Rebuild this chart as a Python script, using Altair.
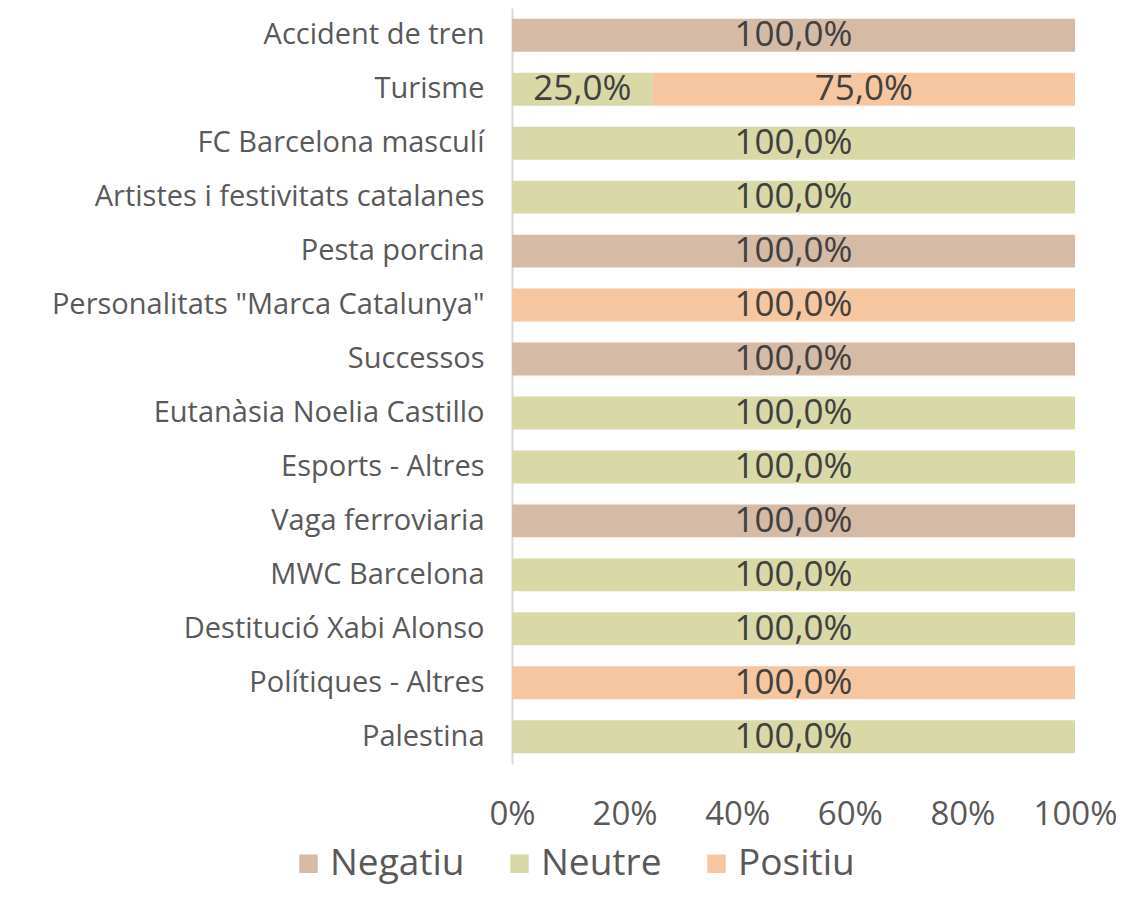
import altair as alt
import pandas as pd

categories = [
    "Accident de tren", "Turisme", "FC Barcelona masculí",
    "Artistes i festivitats catalanes", "Pesta porcina",
    "Personalitats \"Marca Catalunya\"", "Successos",
    "Eutanàsia Noelia Castillo", "Esports - Altres", "Vaga ferroviaria",
    "MWC Barcelona", "Destitució Xabi Alonso", "Polítiques - Altres", "Palestina",
]
negatiu = [100, 0, 0, 0, 100, 0, 100, 0, 0, 100, 0, 0, 0, 0]
neutre = [0, 25, 100, 100, 0, 0, 0, 100, 100, 0, 100, 100, 0, 100]
positiu = [0, 75, 0, 0, 0, 100, 0, 0, 0, 0, 0, 0, 100, 0]
series = ["Negatiu", "Neutre", "Positiu"]
colors = ["#D5BAA6", "#D9D9A8", "#F5C69F"]

rows = []
for i, c in enumerate(categories):
    for j, (s, vals) in enumerate(zip(series, [negatiu, neutre, positiu])):
        v = vals[i]
        if v > 0:
            rows.append({"cat": c, "serie": s, "ord": j, "v": v / 100.0,
                         "lab": f"{v:.1f}%".replace(".", ",")})
df = pd.DataFrame(rows)

FONT = "Open Sans"
base = alt.Chart(df).transform_stack(
    stack="v", groupby=["cat"], as_=["x0", "x1"],
    sort=[alt.SortField("ord", order="ascending")]
).transform_calculate(mid="(datum.x0 + datum.x1) / 2")

y_enc = alt.Y("cat:N", sort=categories, title=None,
              scale=alt.Scale(paddingInner=0.39, paddingOuter=0.2),
              axis=alt.Axis(labelFontSize=29, labelColor="#595959", labelFont=FONT,
                            labelPadding=28, ticks=False, domainColor="#D9D9D9",
                            domainWidth=2, labelLimit=600))

bars = base.mark_bar().encode(
    y=y_enc,
    x=alt.X("x0:Q", title=None, scale=alt.Scale(domain=[0, 1], nice=False),
            axis=alt.Axis(format="%", values=[0, 0.2, 0.4, 0.6, 0.8, 1.0], grid=False,
                          domain=False, ticks=False, labelFontSize=33, labelColor="#595959",
                          labelFont=FONT, labelPadding=34, labelFlush=False)),
    x2="x1:Q",
    color=alt.Color("serie:N", scale=alt.Scale(domain=series, range=colors),
                    legend=alt.Legend(title=None, orient="none", direction="horizontal",
                                      legendX=-222, legendY=837, symbolType="square",
                                      symbolSize=340, symbolStrokeWidth=0,
                                      labelFontSize=37, labelColor="#595959", labelFont=FONT,
                                      columnPadding=36, symbolOffset=0, labelOffset=3,
                                      padding=0)),
)

texts = base.mark_text(fontSize=35, color="#404040", font=FONT, baseline="middle").encode(
    y=alt.Y("cat:N", sort=categories),
    x=alt.X("mid:Q"),
    text="lab:N",
)

chart = (bars + texts).properties(
    width=563, height=756,
    autosize=alt.AutoSizeParams(type="none"),
    padding={"left": 504, "top": 0, "right": 41, "bottom": 125},
).configure_view(stroke=None)

chart.save("out.html", embed_options={"renderer": "svg", "actions": False})
